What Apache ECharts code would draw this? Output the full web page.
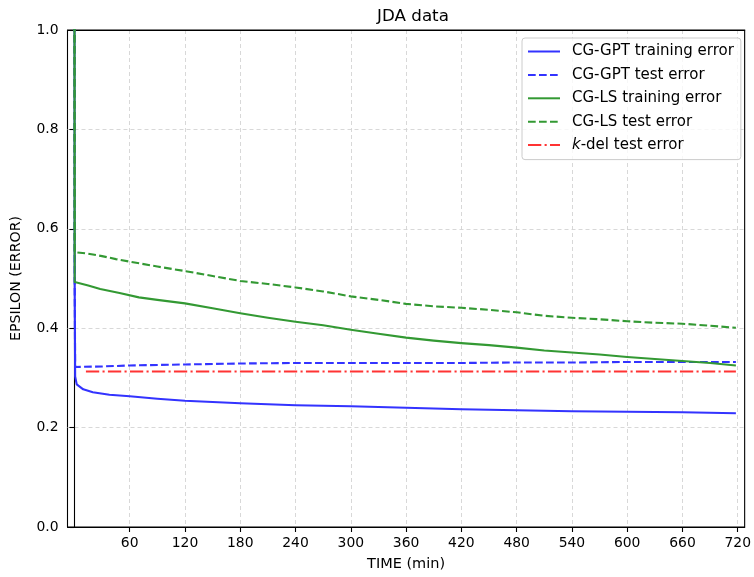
<!DOCTYPE html>
<html>
<head>
<meta charset="utf-8">
<script src="https://cdn.jsdelivr.net/npm/echarts@6/dist/echarts.min.js"></script>
<style>
  html, body { margin: 0; padding: 0; background: #fff; }
  #chart { width: 754px; height: 577px; }
</style>
</head>
<body>
<div id="chart"></div>
<script>
// Error curves for the JDA data set, time in minutes.
const gptTrainTime = [0, 0.3, 0.8, 2.5, 9.6, 20, 38, 60, 90, 120, 180, 240, 300, 360, 420, 480, 540, 600, 660, 718];
const gptTrainErr  = [1.3, 0.495, 0.303, 0.287, 0.277, 0.271, 0.266, 0.263, 0.258, 0.254, 0.249, 0.245, 0.243, 0.240, 0.237, 0.235, 0.233, 0.232, 0.231, 0.229];

const gptTestTime = [0, 0.3, 0.8, 30, 60, 120, 180, 240, 300, 360, 420, 480, 540, 600, 660, 718];
const gptTestErr  = [1.3, 0.5, 0.322, 0.323, 0.325, 0.327, 0.329, 0.330, 0.330, 0.330, 0.330, 0.331, 0.331, 0.332, 0.332, 0.332];

const lsTrainTime = [0, 0.3, 15, 28, 49, 70, 90, 120, 150, 180, 210, 240, 270, 300, 330, 360, 390, 420, 450, 480, 510, 540, 570, 600, 630, 660, 690, 718];
const lsTrainErr  = [1.3, 0.493, 0.486, 0.479, 0.471, 0.462, 0.457, 0.450, 0.440, 0.430, 0.421, 0.413, 0.406, 0.397, 0.389, 0.381, 0.375, 0.370, 0.366, 0.361, 0.355, 0.351, 0.347, 0.342, 0.338, 0.334, 0.330, 0.325];

const lsTestTime = [0, 0.3, 15, 30, 45, 60, 90, 120, 150, 180, 210, 240, 270, 300, 330, 360, 390, 420, 450, 480, 510, 540, 570, 600, 630, 660, 690, 718];
const lsTestErr  = [1.3, 0.553, 0.550, 0.545, 0.539, 0.534, 0.524, 0.515, 0.505, 0.495, 0.489, 0.482, 0.474, 0.464, 0.457, 0.449, 0.444, 0.441, 0.437, 0.432, 0.425, 0.421, 0.418, 0.414, 0.411, 0.409, 0.405, 0.401];

const kdelTime = [12.5, 718];
const kdelErr  = [0.313, 0.313];

const seriesNames = ['CG-GPT training error', 'CG-GPT test error', 'CG-LS training error', 'CG-LS test error', 'k-del test error'];
const xTicks = [60, 120, 180, 240, 300, 360, 420, 480, 540, 600, 660, 720];

const FONT = 'DejaVu Sans';
const BLUE = '#3333ff', GREEN = '#339933', RED = '#ff3333';
const X_MIN = -7.5, X_MAX = 727.5;

const pairs = (xs, ys) => xs.map((x, i) => [x, ys[i]]);

function lineSeries(name, xs, ys, color, dash, z) {
  return {
    name: name,
    type: 'line',
    data: pairs(xs, ys),
    showSymbol: false,
    symbol: 'none',
    clip: true,
    z: z,
    lineStyle: { color: color, width: 2.1, type: dash, cap: 'butt', join: 'round' },
    itemStyle: { color: color },
    emphasis: { disabled: true },
    animation: false
  };
}

const chart = echarts.init(document.getElementById('chart'), null, { renderer: 'canvas' });

chart.setOption({
  animation: false,
  backgroundColor: '#fff',
  title: {
    text: 'JDA data',
    left: 408,
    top: 3,
    textAlign: 'center',
    textStyle: { fontFamily: FONT, fontSize: 16.7, fontWeight: 'normal', color: '#000' }
  },
  grid: {
    left: 67.5, right: 6, top: 30, bottom: 49,
    show: true, borderColor: '#000', borderWidth: 1.1, backgroundColor: 'transparent'
  },
  legend: {
    orient: 'vertical',
    left: 522,
    top: 38,
    padding: [6, 7, 7, 5],
    itemGap: 8.4,
    itemWidth: 32,
    itemHeight: 14,
    borderColor: '#cccccc',
    borderWidth: 1,
    borderRadius: 3,
    backgroundColor: 'rgba(255,255,255,0.8)',
    itemStyle: { opacity: 0 },
    data: seriesNames,
    formatter: function (name) {
      return name === seriesNames[4] ? '{it|k}-del test error' : name;
    },
    textStyle: {
      fontFamily: FONT, fontSize: 15, color: '#000', lineHeight: 15,
      padding: [0, 0, 0, 7],
      rich: { it: { fontFamily: FONT, fontSize: 15, fontStyle: 'italic', color: '#000' } }
    }
  },
  xAxis: [{
    type: 'value',
    min: X_MIN,
    max: X_MAX,
    name: 'TIME (min)',
    nameLocation: 'middle',
    nameGap: 30,
    nameTextStyle: { fontFamily: FONT, fontSize: 14.5, color: '#000' },
    axisLine: { show: true, onZero: false, lineStyle: { color: '#000', width: 1.1 } },
    axisTick: { show: true, inside: false, length: 5, customValues: xTicks, lineStyle: { color: '#000', width: 1.1 } },
    axisLabel: { customValues: xTicks, margin: 9, fontFamily: FONT, fontSize: 13.9, color: '#000', showMinLabel: true, showMaxLabel: true },
    splitLine: { show: true, lineStyle: { color: '#d4d4d4', width: 0.9, type: [4, 3] } }
  }, {
    // top frame edge
    type: 'value',
    position: 'top',
    min: X_MIN,
    max: X_MAX,
    axisLine: { show: true, onZero: false, lineStyle: { color: '#000', width: 1.1 } },
    axisTick: { show: false },
    axisLabel: { show: false },
    splitLine: { show: false }
  }],
  yAxis: {
    type: 'value',
    min: 0,
    max: 1,
    interval: 0.2,
    name: 'EPSILON (ERROR)',
    nameLocation: 'middle',
    nameGap: 44,
    nameTextStyle: { fontFamily: FONT, fontSize: 14.2, color: '#000' },
    axisLine: { show: true, lineStyle: { color: '#000', width: 1.1 } },
    axisTick: { show: true, inside: false, length: 5, lineStyle: { color: '#000', width: 1.1 } },
    axisLabel: { margin: 9, fontFamily: FONT, fontSize: 13.9, color: '#000', formatter: v => v.toFixed(1) },
    splitLine: { show: true, lineStyle: { color: '#d4d4d4', width: 0.9, type: [4, 3] } }
  },
  series: [
    lineSeries(seriesNames[0], gptTrainTime, gptTrainErr, BLUE, 'solid', 2),
    lineSeries(seriesNames[1], gptTestTime, gptTestErr, BLUE, [7.7, 3.3], 3),
    lineSeries(seriesNames[2], lsTrainTime, lsTrainErr, GREEN, 'solid', 4),
    lineSeries(seriesNames[3], lsTestTime, lsTestErr, GREEN, [7.7, 3.3], 5),
    lineSeries(seriesNames[4], kdelTime, kdelErr, RED, [13.3, 3.3, 2.1, 3.3], 6)
  ]
});
</script>
</body>
</html>
